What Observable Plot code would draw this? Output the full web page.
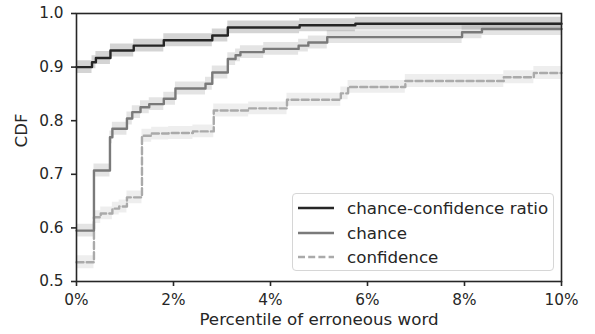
<!DOCTYPE html>
<html>
<head>
<meta charset="utf-8">
<script src="https://cdn.jsdelivr.net/npm/d3@7"></script>
<script src="https://cdn.jsdelivr.net/npm/@observablehq/plot@0.6"></script>
<style>
  html, body { margin: 0; padding: 0; background: #fff; }
  #wrap { position: relative; width: 595px; height: 334px; font-family: "DejaVu Sans", sans-serif; color: #262626; }
  #legend { position: absolute; left: 292px; top: 193px; width: 262px; height: 78px;
            border: 1px solid #d6d6d6; border-radius: 4px; background: rgba(255,255,255,0.85); box-sizing: border-box; }
  .row { position: absolute; left: 0; height: 24px; display: flex; align-items: center; font-size: 16.7px; white-space: nowrap; }
  .row svg { margin-left: 5px; margin-right: 13px; }
</style>
</head>
<body>
<div id="wrap"><div id="legend"></div></div>
<script>
// ---- data (x in percent, y = CDF) ----
const seriesNames = ["chance-confidence ratio", "chance", "confidence"];

const ratioX = [0, 0.32, 0.40, 0.70, 1.18, 1.80, 2.80, 3.12, 4.60, 5.75, 10];
const ratioY = [0.900, 0.909, 0.917, 0.931, 0.940, 0.950, 0.959, 0.974, 0.978, 0.981, 0.981];

const chanceX = [0, 0.36, 0.69, 0.74, 1.04, 1.15, 1.32, 1.50, 1.80, 2.04, 2.66, 2.80, 3.12, 3.28, 3.38, 3.86, 4.58, 4.78, 5.17, 7.95, 8.36, 10];
const chanceY = [0.595, 0.707, 0.769, 0.785, 0.804, 0.816, 0.825, 0.831, 0.841, 0.860, 0.869, 0.890, 0.915, 0.922, 0.928, 0.934, 0.940, 0.946, 0.956, 0.965, 0.971, 0.971];

const confX = [0, 0.36, 0.50, 0.74, 0.88, 1.04, 1.35, 1.55, 1.90, 2.40, 2.83, 3.55, 4.34, 5.45, 5.60, 6.78, 8.81, 9.43, 10];
const confY = [0.536, 0.620, 0.627, 0.636, 0.640, 0.657, 0.772, 0.776, 0.777, 0.780, 0.819, 0.823, 0.839, 0.851, 0.863, 0.874, 0.881, 0.889, 0.889];

// half-width of the shaded band around each curve
const bandHalf = [0.012, 0.012, 0.012];

const xTicks = [0, 2, 4, 6, 8, 10];
const yTicks = [0.5, 0.6, 0.7, 0.8, 0.9, 1.0];
const xLabel = "Percentile of erroneous word";
const yLabel = "CDF";

// ---- styles ----
const colors = ["#262626", "#7a7a7a", "#aaaaaa"];
const dashes = [null, null, "7,3.2"];

const xs = [ratioX, chanceX, confX];
const ys = [ratioY, chanceY, confY];
const tables = seriesNames.map((name, i) =>
  xs[i].map((x, j) => ({series: name, x, y: ys[i][j], lo: ys[i][j] - bandHalf[i], hi: ys[i][j] + bandHalf[i]}))
);

const marks = [];
tables.forEach((t, i) => {
  marks.push(Plot.areaY(t, {x: "x", y1: "lo", y2: "hi", curve: "step-after", fill: colors[i], fillOpacity: 0.2}));
});
[2, 1, 0].forEach(i => {
  marks.push(Plot.lineY(tables[i], {x: "x", y: "y", curve: "step-after", stroke: colors[i], strokeWidth: 2.4,
    strokeDasharray: dashes[i] || undefined}));
});
marks.push(Plot.frame({stroke: "#262626", strokeWidth: 1.6}));
marks.push(Plot.axisX({ticks: xTicks, tickFormat: d => d + "%", tickSize: 5, tickPadding: 8, label: null,
  stroke: "#262626", strokeWidth: 1.6, fontSize: 15.3, fill: "#262626"}));
marks.push(Plot.axisY({ticks: yTicks, tickFormat: d => d.toFixed(1), tickSize: 5, tickPadding: 8, label: null,
  stroke: "#262626", strokeWidth: 1.6, fontSize: 15.3, fill: "#262626"}));
marks.push(Plot.text([xLabel], {frameAnchor: "bottom", dy: 43.5, text: d => d, fontSize: 16.7, fill: "#262626"}));
marks.push(Plot.text([yLabel], {frameAnchor: "left", dx: -54.5, rotate: -90, text: d => d, fontSize: 16.7, fill: "#262626"}));

const chart = Plot.plot({
  width: 595,
  height: 334,
  marginLeft: 76,
  marginRight: 34,
  marginTop: 13,
  marginBottom: 53,
  style: {fontFamily: "DejaVu Sans", background: "white", color: "#262626", overflow: "visible"},
  x: {domain: [0, 10]},
  y: {domain: [0.5, 1.0]},
  marks
});
const wrap = document.getElementById("wrap");
wrap.insertBefore(chart, wrap.firstChild);

// ---- legend ----
const legend = document.getElementById("legend");
const rowTops = [2, 26.5, 50.5];
seriesNames.forEach((name, i) => {
  const row = document.createElement("div");
  row.className = "row";
  row.style.top = rowTops[i] + "px";
  row.innerHTML = `<svg width="36" height="6"><line x1="0" y1="3" x2="36" y2="3" stroke="${colors[i]}" stroke-width="2.4" ${dashes[i] ? `stroke-dasharray="${dashes[i]}"` : ""}/></svg><span>${name}</span>`;
  legend.appendChild(row);
});
</script>
</body>
</html>
